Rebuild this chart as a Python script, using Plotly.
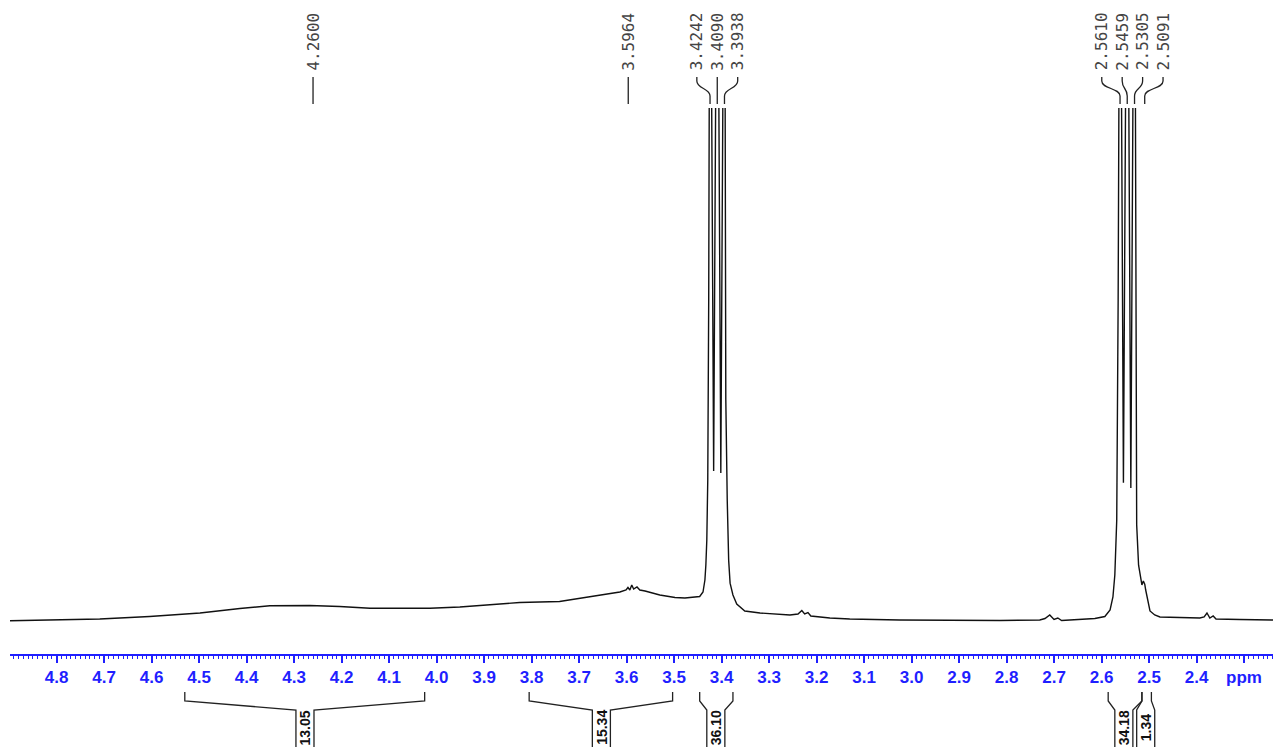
import plotly.graph_objects as go

# ---- spectrum trace (ppm, intensity; baseline = 0, top of frame = 100) ----
ppm = [4.898, 4.814, 4.709, 4.604, 4.498, 4.414, 4.351, 4.267, 4.204, 4.140, 4.077, 4.014,
       3.951, 3.909, 3.867, 3.825, 3.741, 3.656, 3.614, 3.601, 3.597, 3.593, 3.589, 3.585,
       3.578, 3.572, 3.561, 3.530, 3.498, 3.477, 3.456, 3.446, 3.439, 3.435, 3.433, 3.431,
       3.429, 3.427, 3.4242, 3.4166, 3.4090, 3.4015, 3.3938, 3.391, 3.388, 3.385, 3.382,
       3.376, 3.368, 3.351, 3.319, 3.256, 3.239, 3.231, 3.225, 3.218, 3.212, 3.172, 3.130,
       3.025, 2.814, 2.730, 2.719, 2.709, 2.700, 2.692, 2.684, 2.646, 2.614, 2.593, 2.582,
       2.576, 2.572, 2.568, 2.565, 2.5610, 2.5539, 2.5459, 2.5383, 2.5305, 2.528, 2.526,
       2.522, 2.517, 2.515, 2.512, 2.509, 2.507, 2.503, 2.498, 2.488, 2.477, 2.393, 2.384,
       2.378, 2.372, 2.365, 2.359, 2.309, 2.239]
intensity = [-0.14, 0.0, 0.2, 0.68, 1.37, 2.25, 2.79, 2.83, 2.64, 2.29, 2.25, 2.29,
             2.54, 2.85, 3.1, 3.42, 3.61, 4.88, 5.47, 5.86, 6.35, 5.86, 6.84, 6.05,
             6.45, 5.86, 5.66, 4.88, 4.39, 4.30, 4.49, 4.59, 5.47, 7.81, 10.74, 15.63,
             27.3, 62.5, 160.0, 29.1, 160.0, 28.7, 160.0, 43.0, 23.4, 11.7, 7.2,
             4.9, 3.1, 1.76, 1.37, 0.98, 1.17, 1.86, 1.17, 1.46, 0.78, 0.39, 0.2,
             0.0, -0.1, 0.0, 0.29, 0.98, 0.1, 0.39, -0.1, 0.1, 0.29, 0.68, 1.95,
             4.49, 8.79, 19.5, 62.5, 160.0, 26.8, 160.0, 25.8, 160.0, 43.0, 18.6,
             10.7, 8.2, 6.84, 7.6, 7.0, 5.86, 3.9, 1.76, 0.98, 0.59, 0.39, 0.59,
             1.37, 0.39, 0.78, 0.2, 0.1, 0.0]

# ---- peak picks ----
single_peaks = [4.2600, 3.5964]
group_a_peaks = [3.4242, 3.4090, 3.3938]
group_a_labels = [3.452, 3.409, 3.366]
group_b_peaks = [2.5610, 2.5459, 2.5305, 2.5091]
group_b_labels = [2.5995, 2.5565, 2.5135, 2.4705]

# ---- integrals ----
int_start = [4.530, 3.805, 3.446, 2.586, 2.515]
int_end = [4.025, 3.503, 3.376, 2.515, 2.495]
int_center = [4.277, 3.653, 3.412, 2.553, 2.507]
int_values = ["13.05", "15.34", "36.10", "34.18", "1.34"]

# ---- axis ticks ----
tick_vals = [4.8, 4.7, 4.6, 4.5, 4.4, 4.3, 4.2, 4.1, 4.0, 3.9, 3.8, 3.7, 3.6, 3.5,
             3.4, 3.3, 3.2, 3.1, 3.0, 2.9, 2.8, 2.7, 2.6, 2.5, 2.4, 2.3]
tick_text = ["4.8", "4.7", "4.6", "4.5", "4.4", "4.3", "4.2", "4.1", "4.0", "3.9", "3.8",
             "3.7", "3.6", "3.5", "3.4", "3.3", "3.2", "3.1", "3.0", "2.9", "2.8", "2.7",
             "2.6", "2.5", "2.4", "ppm"]

BLUE = "#1f1fff"
W, H = 1275, 747
M_T, M_B = 108, 93
PH = H - M_T - M_B


def py(pix):
    """pixel row -> paper y"""
    return (H - M_B - pix) / PH


fig = go.Figure()
fig.add_trace(go.Scatter(x=ppm, y=intensity, mode="lines",
                         line=dict(color="#111111", width=1.4),
                         hoverinfo="skip", showlegend=False))

shapes = []
annotations = []
label_font = dict(family="DejaVu Sans Mono", size=16, color="#444444")

# single peak labels
for p in single_peaks:
    shapes.append(dict(type="line", xref="x", yref="paper", x0=p, x1=p,
                       y0=py(77), y1=py(104), line=dict(color="#222222", width=1.3)))
    annotations.append(dict(x=p, y=py(72.5), xref="x", yref="paper", text=f"{p:.4f}",
                            textangle=-90, showarrow=False, xanchor="center",
                            yanchor="bottom", font=label_font))

# multiplet labels with connectors
for peaks, labs in ((group_a_peaks, group_a_labels), (group_b_peaks, group_b_labels)):
    for p, lx in zip(peaks, labs):
        path = (f"M {lx},{py(77)} L {lx},{py(81)} "
                f"C {lx},{py(89)} {p},{py(88)} {p},{py(96)} L {p},{py(104)}")
        shapes.append(dict(type="path", xref="x", yref="paper", path=path,
                           line=dict(color="#222222", width=1.3)))
        annotations.append(dict(x=lx, y=py(72.5), xref="x", yref="paper", text=f"{p:.4f}",
                                textangle=-90, showarrow=False, xanchor="center",
                                yanchor="bottom", font=label_font))

# integral brackets
half_box = 0.019
for s, e, c, v in zip(int_start, int_end, int_center, int_values):
    for end, edge in ((s, c + half_box), (e, c - half_box)):
        path = (f"M {end},{py(692)} L {end},{py(701)} L {edge},{py(710)} "
                f"L {edge},{py(752)}")
        shapes.append(dict(type="path", xref="x", yref="paper", path=path,
                           line=dict(color="#222222", width=1.3)))
    annotations.append(dict(x=c, y=py(727.5), xref="x", yref="paper", text=f"<b>{v}</b>",
                            textangle=-90, showarrow=False, xanchor="center",
                            yanchor="middle",
                            font=dict(family="Liberation Sans", size=14, color="#111111")))

fig.update_layout(
    width=W, height=H,
    margin=dict(l=10, r=2, t=M_T, b=M_B, pad=0),
    paper_bgcolor="white", plot_bgcolor="white",
    shapes=shapes, annotations=annotations,
    showlegend=False,
    xaxis=dict(range=[4.898, 2.239], tickmode="array", tickvals=tick_vals,
               ticktext=tick_text, showgrid=False, zeroline=False,
               showline=True, linecolor=BLUE, linewidth=2,
               ticks="outside", ticklen=7, tickwidth=1.5, tickcolor=BLUE,
               tickfont=dict(family="Liberation Sans", size=17, color=BLUE, weight="bold"),
               minor=dict(dtick=0.01, tick0=0, ticks="outside", ticklen=3,
                          tickwidth=1, tickcolor=BLUE, showgrid=False)),
    yaxis=dict(range=[-6.64, 100], visible=False, showgrid=False, zeroline=False),
)

fig.write_html("out.html")
